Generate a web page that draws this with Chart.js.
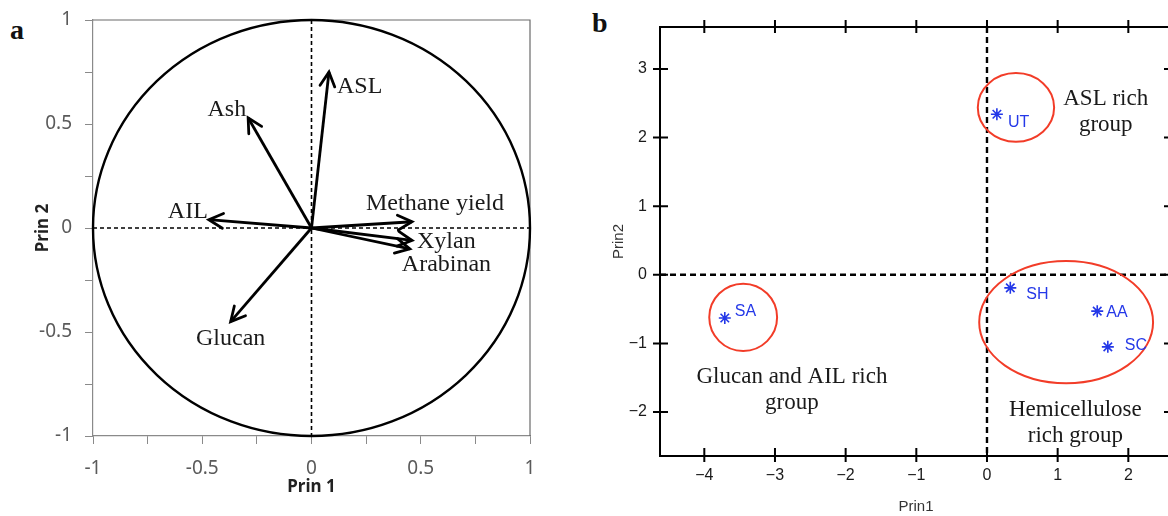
<!DOCTYPE html>
<html><head><meta charset="utf-8">
<script src="https://cdn.jsdelivr.net/npm/chart.js@4.4.0/dist/chart.umd.min.js"></script>
<style>
html,body{margin:0;padding:0;background:#fff;width:1168px;height:516px;overflow:hidden;position:relative;}
#ca{position:absolute;left:0;top:0;}
#cb{position:absolute;left:580px;top:0;}
.tag{position:absolute;font:bold 28px "Liberation Serif",serif;line-height:28px;color:#111;}
</style></head><body>
<div class="tag" style="left:10px;top:16px">a</div>
<div class="tag" style="left:592px;top:9px">b</div>
<canvas id="ca" width="580" height="516"></canvas>
<canvas id="cb" width="600" height="516"></canvas>
<script>
// ===== panel a: loadings =====
const loadNames=['ASL','Ash','AIL','Glucan','Methane yield','Xylan','Arabinan'];
const loadPrin1=[0.08,-0.29,-0.47,-0.37,0.46,0.46,0.45];
const loadPrin2=[0.75,0.53,0.04,-0.45,0.03,-0.06,-0.10];
const ticksA=[-1,-0.75,-0.5,-0.25,0,0.25,0.5,0.75,1];
const tickLabelsA=['-1','','-0.5','','0','','0.5','','1'];

// ===== panel b: scores =====
const sampleNames=['UT','SA','SH','AA','SC'];
const scorePrin1=[0.14,-3.71,0.33,1.56,1.71];
const scorePrin2=[2.34,-0.63,-0.19,-0.53,-1.05];
const ticksBx=[-4,-3,-2,-1,0,1,2];
const ticksBy=[-2,-1,0,1,2,3];
const groupNames=[['ASL rich','group'],['Glucan and AIL rich','group'],['Hemicellulose','rich group']];
const groupCx=[0.41,-3.45,1.12];
const groupCy=[2.44,-0.62,-0.69];
const groupRx=[0.54,0.48,1.23];
const groupRy=[0.50,0.49,0.89];

// ===== layout (label offsets, px) =====
const LA={
  'ASL':{dx:8,dy:15,align:'left'}, 'Ash':{dx:-2,dy:-8,align:'right'}, 'AIL':{dx:-1,dy:-8,align:'right'},
  'Glucan':{dx:0,dy:17,align:'center'}, 'Methane yield':{dx:-46,dy:-18,align:'left'},
  'Xylan':{dx:5,dy:1,align:'left'}, 'Arabinan':{dx:-8,dy:16,align:'left'}
};
const LB={ UT:[11,8], SA:[10,-6], SH:[16,7], AA:[9,1], SC:[17,-1] };
const groupTextAt=[[1.68,2.48],[-2.76,-1.58],[1.25,-2.06]];
const fmtB=v=> v<0?'\u2212'+Math.abs(v):String(v);

// ===== panel a plugin =====
const plugA={id:'plugA',
  beforeDatasetsDraw(c){
    const {ctx,chartArea:a,scales:{x,y}}=c;
    const x0=x.getPixelForValue(0), y0=y.getPixelForValue(0);
    ctx.save();
    ctx.strokeStyle='#6a6a6a'; ctx.lineWidth=1.2;
    ctx.beginPath(); ctx.moveTo(a.left,a.top); ctx.lineTo(a.right,a.top); ctx.lineTo(a.right,a.bottom); ctx.stroke();
    ctx.strokeStyle='#000'; ctx.lineWidth=1.6; ctx.setLineDash([4,3]);
    ctx.beginPath(); ctx.moveTo(a.left,y0); ctx.lineTo(a.right,y0); ctx.moveTo(x0,a.top); ctx.lineTo(x0,a.bottom); ctx.stroke();
    ctx.setLineDash([]); ctx.lineWidth=2.4;
    ctx.beginPath(); ctx.ellipse(x0,y0,x.getPixelForValue(1)-x0,y0-y.getPixelForValue(1),0,0,Math.PI*2); ctx.stroke();
    ctx.restore();
  },
  afterDatasetsDraw(c){
    const {ctx}=c;
    ctx.save();
    ctx.strokeStyle='#000'; ctx.lineWidth=2.8; ctx.lineCap='round';
    ctx.font='24px "Liberation Serif", serif'; ctx.fillStyle='#1a1a1a'; ctx.textBaseline='middle';
    c.data.datasets.forEach((ds,i)=>{
      const pts=c.getDatasetMeta(i).data; const p0=pts[0], p1=pts[1];
      const ang=Math.atan2(p1.y-p0.y,p1.x-p0.x), L=16, h=0.48;
      ctx.beginPath();
      ctx.moveTo(p1.x+L*Math.cos(ang+Math.PI-h),p1.y+L*Math.sin(ang+Math.PI-h));
      ctx.lineTo(p1.x,p1.y);
      ctx.lineTo(p1.x+L*Math.cos(ang+Math.PI+h),p1.y+L*Math.sin(ang+Math.PI+h));
      ctx.stroke();
      const o=LA[ds.label]; ctx.textAlign=o.align;
      ctx.fillText(ds.label,p1.x+o.dx,p1.y+o.dy);
    });
    ctx.restore();
  }
};

const tickFontA={family:'"Noto Sans", sans-serif',size:19};
new Chart(document.getElementById('ca'),{
  type:'scatter',
  data:{datasets:loadNames.map((n,i)=>({label:n,data:[{x:0,y:0},{x:loadPrin1[i],y:loadPrin2[i]}],
    showLine:true,borderColor:'#000',borderWidth:2.8,pointRadius:0,pointHoverRadius:0}))},
  options:{responsive:false,animation:false,events:[],
    layout:{padding:{left:0,right:50,top:20,bottom:0}},
    plugins:{legend:{display:false},tooltip:{enabled:false}},
    scales:{
      x:{type:'linear',min:-1,max:1,
        afterBuildTicks:s=>{s.ticks=ticksA.map(v=>({value:v}));},
        afterFit:s=>{s.height=80;s.paddingLeft=0;s.paddingRight=0;},
        grid:{drawOnChartArea:false,tickLength:8,color:'#8a8a8a'},border:{color:'#8a8a8a',width:1.2},
        ticks:{autoSkip:false,maxRotation:0,padding:13,color:'#5a5a5a',font:tickFontA,callback:(v,i)=>tickLabelsA[i]},
        title:{display:true,text:'Prin 1',color:'#222',font:{family:'"Noto Sans", sans-serif',size:17,weight:'bold'},padding:{top:0,bottom:19}}},
      y:{type:'linear',min:-1,max:1,
        afterBuildTicks:s=>{s.ticks=ticksA.map(v=>({value:v}));},
        afterFit:s=>{s.width=93;s.paddingTop=0;s.paddingBottom=0;},
        grid:{drawOnChartArea:false,tickLength:8,color:'#8a8a8a'},border:{color:'#8a8a8a',width:1.2},
        ticks:{autoSkip:false,padding:13,color:'#5a5a5a',font:tickFontA,callback:(v,i)=>tickLabelsA[i]},
        title:{display:true,text:'Prin 2',color:'#222',font:{family:'"Noto Sans", sans-serif',size:17,weight:'bold'},padding:{top:33,bottom:0}}}
    }},
  plugins:[plugA]
});

// ===== panel b plugin =====
const plugB={id:'plugB',
  beforeDatasetsDraw(c){
    const {ctx,chartArea:a,scales:{x,y}}=c;
    const x0=x.getPixelForValue(0), y0=y.getPixelForValue(0);
    ctx.save();
    ctx.strokeStyle='#000'; ctx.lineWidth=2.4; ctx.setLineDash([6,4]);
    ctx.beginPath(); ctx.moveTo(a.left,y0); ctx.lineTo(a.right,y0); ctx.moveTo(x0,a.top); ctx.lineTo(x0,a.bottom); ctx.stroke();
    ctx.setLineDash([]);
    ctx.strokeStyle='#f23c28'; ctx.lineWidth=2;
    groupCx.forEach((cx,i)=>{
      const px=x.getPixelForValue(cx), py=y.getPixelForValue(groupCy[i]);
      const rx=x.getPixelForValue(cx+groupRx[i])-px, ry=py-y.getPixelForValue(groupCy[i]+groupRy[i]);
      ctx.beginPath(); ctx.ellipse(px,py,rx,ry,0,0,Math.PI*2); ctx.stroke();
    });
    ctx.restore();
  },
  afterDatasetsDraw(c){
    const {ctx,scales:{x,y}}=c;
    ctx.save();
    ctx.fillStyle='#2438e8'; ctx.font='16px "Liberation Sans", Arial, sans-serif';
    ctx.textAlign='left'; ctx.textBaseline='middle';
    c.getDatasetMeta(0).data.forEach((p,i)=>{
      const o=LB[sampleNames[i]]; ctx.fillText(sampleNames[i],p.x+o[0],p.y+o[1]);
    });
    ctx.fillStyle='#1a1a1a'; ctx.font='23px "Liberation Serif", serif';
    ctx.textAlign='center'; ctx.textBaseline='alphabetic';
    groupNames.forEach((lines,i)=>{
      const px=x.getPixelForValue(groupTextAt[i][0]), py=y.getPixelForValue(groupTextAt[i][1]);
      lines.forEach((t,k)=>ctx.fillText(t,px,py+k*26));
    });
    ctx.restore();
  },
  afterDraw(c){
    const {ctx,chartArea:a,scales:{x,y}}=c;
    ctx.save();
    ctx.strokeStyle='#000'; ctx.lineWidth=2;
    ctx.strokeRect(a.left,a.top,a.right-a.left,a.bottom-a.top);
    ctx.beginPath();
    x.ticks.forEach(t=>{ const px=x.getPixelForValue(t.value);
      ctx.moveTo(px,a.bottom-8); ctx.lineTo(px,a.bottom+6);
      ctx.moveTo(px,a.top-7); ctx.lineTo(px,a.top+6); });
    y.ticks.forEach(t=>{ const py=y.getPixelForValue(t.value);
      ctx.moveTo(a.left-7,py); ctx.lineTo(a.left+8,py);
      ctx.moveTo(a.right-8,py); ctx.lineTo(a.right+7,py); });
    ctx.stroke();
    ctx.restore();
  }
};

const tickFontB={family:'"Liberation Sans", Arial, sans-serif',size:16};
new Chart(document.getElementById('cb'),{
  type:'scatter',
  data:{datasets:[{label:'scores',data:sampleNames.map((n,i)=>({x:scorePrin1[i],y:scorePrin2[i]})),
    pointStyle:'star',pointRadius:6,pointBorderWidth:1.6,pointBorderColor:'#2438e8',pointBackgroundColor:'#2438e8',showLine:false}]},
  options:{responsive:false,animation:false,events:[],
    layout:{padding:{left:0,right:8,top:27,bottom:0}},
    plugins:{legend:{display:false},tooltip:{enabled:false}},
    scales:{
      x:{type:'linear',min:-4.627,max:2.618,
        afterBuildTicks:s=>{s.ticks=ticksBx.map(v=>({value:v}));},
        afterFit:s=>{s.height=60;s.paddingLeft=0;s.paddingRight=0;},
        grid:{display:false,tickLength:7},border:{display:false},
        ticks:{autoSkip:false,maxRotation:0,padding:3,color:'#1a1a1a',font:tickFontB,callback:(v,i)=>fmtB(ticksBx[i])},
        title:{display:true,text:'Prin1',color:'#333',font:{family:'"Liberation Sans", Arial, sans-serif',size:15},padding:{top:0,bottom:0}}},
      y:{type:'linear',min:-2.641,max:3.612,
        afterBuildTicks:s=>{s.ticks=ticksBy.map(v=>({value:v}));},
        afterFit:s=>{s.width=80;s.paddingTop=0;s.paddingBottom=0;},
        grid:{display:false,tickLength:7},border:{display:false},
        ticks:{autoSkip:false,padding:6,color:'#1a1a1a',font:tickFontB,callback:(v,i)=>fmtB(ticksBy[i])},
        title:{display:true,text:'Prin2',color:'#333',font:{family:'"Liberation Sans", Arial, sans-serif',size:15},padding:{top:30,bottom:0}}}
    }},
  plugins:[plugB]
});
</script>
</body></html>
